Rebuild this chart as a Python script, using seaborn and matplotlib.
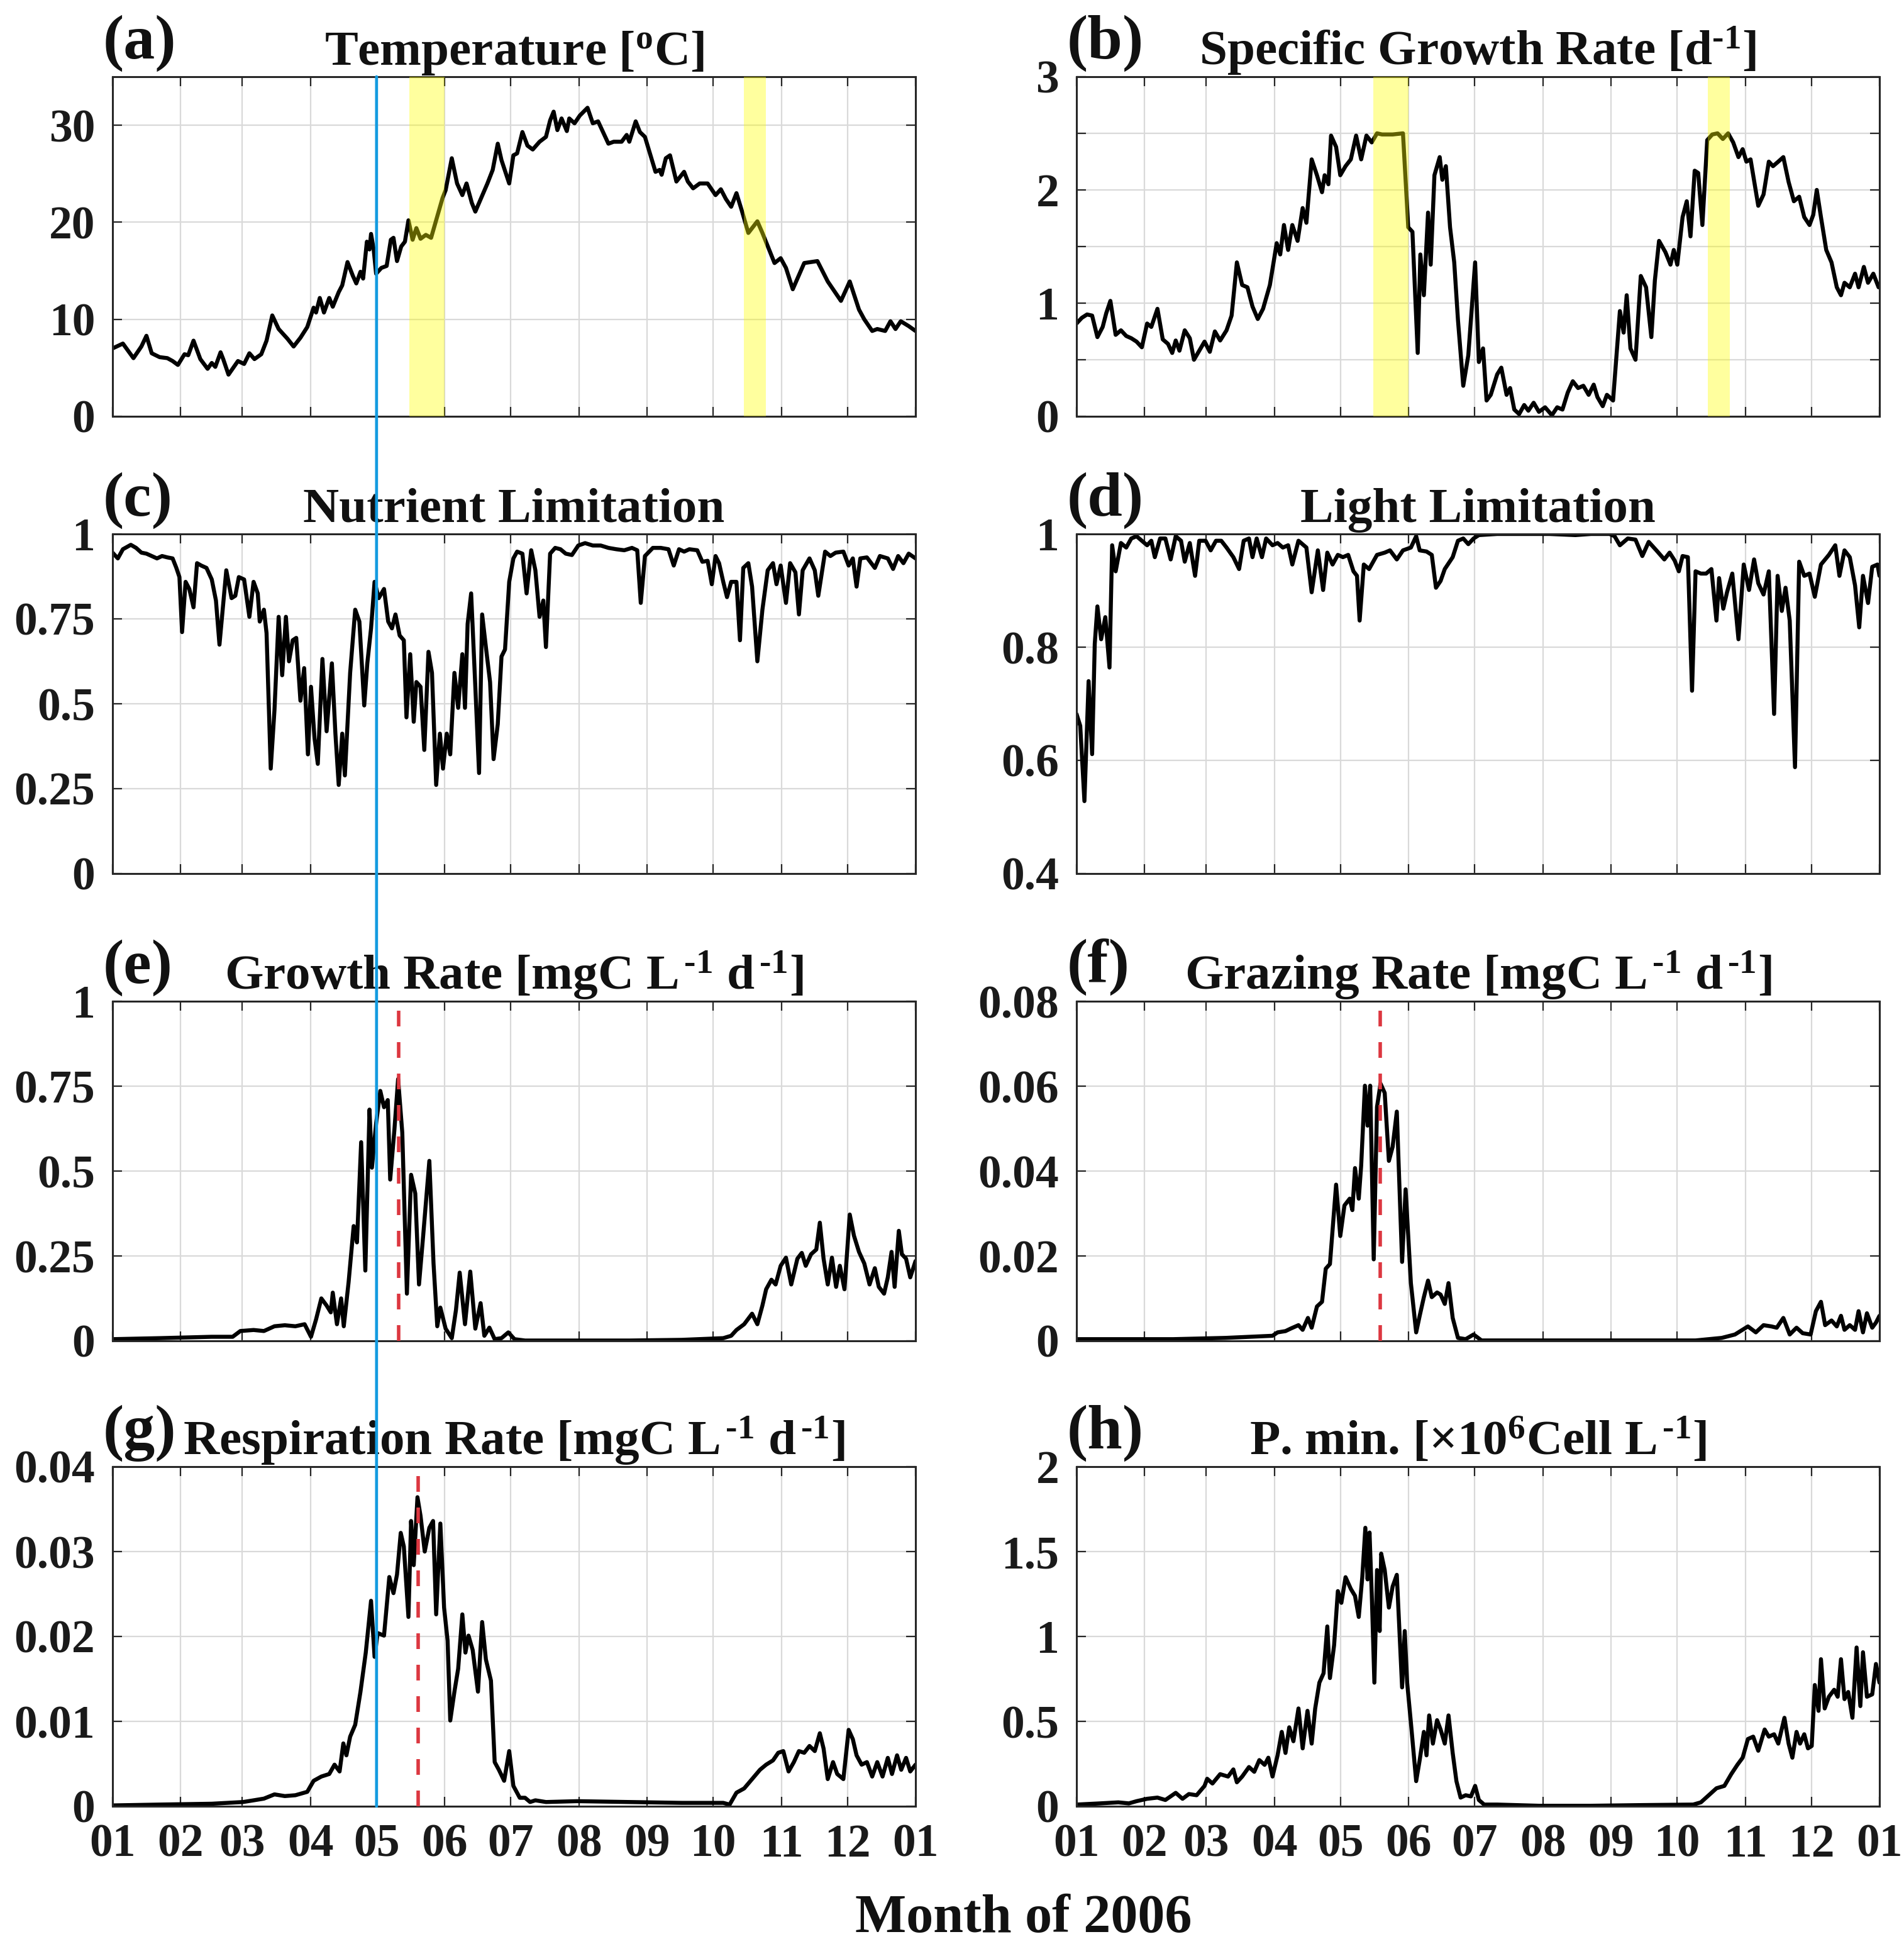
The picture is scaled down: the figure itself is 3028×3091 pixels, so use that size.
import numpy as np
import pandas as pd
import matplotlib
matplotlib.use("Agg")
import matplotlib.pyplot as plt
import matplotlib.dates as mdates
from matplotlib.patches import ConnectionPatch
from matplotlib.ticker import FixedLocator, FixedFormatter
import seaborn as sns

# ---------------- data (day offset from 2006-01-01, value) ----------------
YEAR_START = "2006-01-01"

temp_day = [0, 4.7, 9.5, 13.1, 15.4, 17.8, 21.4, 24.9, 27.3, 29.7,
            32.7, 34.4, 36.8, 39.9, 43.2, 45.1, 46.7, 49.1, 50.3, 52.7,
            57.0, 59.8, 62.2, 64.5, 67.6, 70.0, 72.6, 75.5, 79.5, 82.3,
            85.4, 88.5, 91.4, 92.5, 94.2, 96.1, 98.5, 100.1, 102.8, 104.4,
            106.8, 109.2, 110.8, 112.7, 113.9, 115.6, 116.8, 117.5, 118.7, 119.8,
            122.2, 124.6, 126.5, 127.7, 129.3, 131.2, 132.9, 134.5, 136.4, 138.1,
            140.0, 142.4, 144.8, 147.6, 150.0, 151.4, 154.2, 156.6, 159.0, 160.9,
            163.3, 164.9, 166.6, 170.4, 172.8, 175.1, 176.8, 180.3, 182.2, 183.9,
            186.3, 188.6, 191.0, 194.1, 197.0, 198.9, 200.5, 202.2, 204.1, 206.5,
            207.6, 210.0, 212.4, 215.9, 218.3, 220.7, 225.4, 227.8, 231.4, 233.7,
            234.9, 237.8, 239.7, 242.0, 246.8, 248.7, 249.6, 251.5, 253.4, 256.3,
            259.8, 261.5, 263.9, 266.9, 270.5, 274.1, 276.5, 278.8, 281.2, 283.6,
            285.9, 289.0, 293.1, 295.4, 300.9, 303.7, 306.1, 309.2, 314.4, 320.4,
            325.1, 328.7, 331.1, 335.1, 339.3, 341.7, 345.3, 347.6, 351.2, 353.6,
            355.9, 358.3, 361.9, 365.0]
temp_val = [7.0, 7.5, 6.0, 7.2, 8.3, 6.5, 6.1, 6.0, 5.7, 5.3,
            6.4, 6.3, 7.8, 5.9, 4.9, 5.5, 5.1, 6.6, 5.9, 4.3,
            5.7, 5.4, 6.5, 5.9, 6.4, 7.8, 10.4, 9.0, 8.0, 7.2,
            8.1, 9.2, 11.2, 10.7, 12.2, 10.7, 12.2, 11.3, 12.8, 13.5,
            15.9, 14.5, 13.7, 14.9, 14.2, 18.0, 17.2, 18.8, 17.2, 14.7,
            15.3, 15.5, 18.2, 18.4, 16.0, 17.5, 18.0, 20.2, 18.2, 19.4,
            18.3, 18.7, 18.4, 20.6, 22.5, 23.3, 26.6, 24.0, 22.8, 24.0,
            22.0, 21.1, 22.0, 24.0, 25.4, 28.1, 26.4, 24.0, 26.9, 27.1,
            29.3, 27.9, 27.5, 28.3, 28.8, 30.5, 31.4, 29.5, 30.7, 29.4,
            30.7, 30.2, 31.0, 31.8, 30.2, 30.4, 28.1, 28.3, 28.3, 29.0,
            28.3, 30.4, 29.3, 28.8, 25.2, 25.4, 24.9, 26.6, 26.9, 24.2,
            25.2, 24.2, 23.5, 24.0, 24.0, 22.8, 23.4, 22.4, 21.6, 23.0,
            21.3, 18.9, 20.1, 18.9, 15.8, 16.3, 15.3, 13.1, 15.8, 16.0,
            13.9, 12.7, 11.9, 13.9, 11.0, 10.0, 8.8, 9.0, 8.8, 9.8,
            9.0, 9.8, 9.3, 8.8]

sgr_day = [0, 2.4, 4.8, 7.1, 9.5, 11.9, 13.5, 15.4, 17.8, 20.2,
           22.6, 24.9, 27.3, 29.7, 32.1, 34.0, 36.8, 39.2, 41.6, 43.5,
           45.1, 46.8, 49.2, 51.5, 53.4, 55.8, 58.2, 60.6, 62.9, 65.3,
           68.2, 70.5, 72.9, 75.3, 77.7, 80.0, 82.4, 84.8, 87.9, 91.0,
           92.6, 94.3, 96.2, 98.1, 100.5, 102.8, 104.5, 106.9, 109.3, 111.6,
           112.8, 114.5, 115.7, 118.0, 119.9, 122.3, 124.7, 127.1, 129.4, 131.8,
           134.2, 136.6, 138.9, 143.7, 148.4, 150.8, 152.7, 155.1, 156.3, 157.9,
           159.8, 161.0, 162.7, 165.1, 166.3, 167.9, 169.8, 171.7, 173.4, 175.8,
           178.1, 181.2, 182.9, 184.8, 186.4, 188.3, 191.2, 193.1, 195.5, 197.1,
           199.0, 201.2, 203.5, 205.4, 207.8, 210.2, 213.0, 216.1, 218.5, 220.9,
           223.3, 225.6, 228.0, 230.4, 232.8, 235.1, 236.8, 239.2, 241.1, 243.9,
           247.0, 248.7, 250.1, 251.8, 254.1, 256.5, 258.9, 261.3, 262.9, 264.8,
           267.7, 270.0, 271.5, 273.1, 275.5, 277.4, 279.1, 281.0, 282.6, 284.5,
           286.7, 289.0, 291.4, 293.8, 296.2, 298.5, 300.9, 302.8, 304.5, 306.4,
           309.9, 312.3, 314.7, 316.6, 319.0, 321.3, 323.7, 326.1, 328.5, 330.8,
           333.2, 334.9, 336.5, 338.4, 340.8, 343.2, 345.6, 347.5, 349.1, 351.5,
           353.9, 355.5, 357.9, 359.8, 362.2, 364.6]
sgr_val = [0.82, 0.87, 0.90, 0.89, 0.70, 0.79, 0.91, 1.02, 0.72, 0.76,
           0.71, 0.69, 0.66, 0.61, 0.82, 0.79, 0.95, 0.68, 0.64, 0.56,
           0.67, 0.58, 0.76, 0.69, 0.50, 0.58, 0.66, 0.57, 0.75, 0.67,
           0.76, 0.89, 1.36, 1.16, 1.14, 0.97, 0.86, 0.95, 1.16, 1.53,
           1.43, 1.69, 1.47, 1.69, 1.55, 1.84, 1.71, 2.27, 2.13, 1.98,
           2.13, 2.05, 2.48, 2.38, 2.13, 2.21, 2.27, 2.48, 2.27, 2.48,
           2.42, 2.50, 2.49, 2.49, 2.50, 1.67, 1.63, 0.56, 1.43, 1.07,
           1.80, 1.34, 2.13, 2.29, 2.09, 2.21, 1.67, 1.36, 0.85, 0.27,
           0.54, 1.36, 0.48, 0.60, 0.14, 0.19, 0.37, 0.43, 0.19, 0.25,
           0.06, 0.02, 0.10, 0.05, 0.12, 0.04, 0.08, 0.01, 0.08, 0.06,
           0.21, 0.31, 0.25, 0.27, 0.19, 0.28, 0.17, 0.09, 0.19, 0.14,
           0.93, 0.74, 1.07, 0.60, 0.50, 1.24, 1.14, 0.70, 1.20, 1.55,
           1.45, 1.34, 1.47, 1.34, 1.76, 1.90, 1.59, 2.17, 2.15, 1.69,
           2.44, 2.49, 2.50, 2.45, 2.50, 2.42, 2.29, 2.36, 2.25, 2.27,
           1.86, 1.96, 2.25, 2.21, 2.25, 2.29, 2.07, 1.90, 1.94, 1.76,
           1.69, 1.78, 2.00, 1.76, 1.47, 1.36, 1.14, 1.07, 1.18, 1.14,
           1.26, 1.14, 1.32, 1.18, 1.26, 1.14]

nut_day = [0, 2.4, 4.7, 8.3, 10.7, 13.1, 15.4, 17.8, 20.2, 22.5,
           24.9, 27.3, 29.0, 30.4, 31.6, 33.2, 34.9, 36.8, 38.4, 40.3,
           42.7, 45.1, 47.0, 48.6, 51.7, 54.1, 55.8, 57.4, 59.8, 62.2,
           64.1, 66.0, 66.9, 68.8, 70.0, 71.9, 73.6, 75.5, 77.1, 78.8,
           80.2, 81.9, 83.5, 85.4, 87.1, 88.8, 90.2, 91.8, 93.3, 95.4,
           97.3, 99.7, 101.3, 102.8, 104.4, 105.6, 108.0, 110.3, 112.2, 114.4,
           115.8, 117.5, 119.1, 121.0, 123.4, 125.3, 127.0, 128.6, 130.5, 132.4,
           133.6, 135.3, 136.9, 138.1, 140.0, 141.7, 143.6, 145.2, 147.1, 148.8,
           150.2, 151.9, 153.5, 155.4, 157.1, 159.0, 160.2, 161.4, 163.0, 164.9,
           166.6, 168.0, 169.7, 171.6, 173.2, 175.1, 176.8, 178.4, 180.3, 182.2,
           183.9, 186.3, 188.2, 190.3, 192.2, 194.1, 195.8, 197.0, 198.9, 201.2,
           203.6, 206.0, 208.8, 211.7, 214.8, 218.3, 221.9, 225.4, 229.0, 232.6,
           236.1, 238.5, 240.1, 242.0, 245.6, 249.2, 252.7, 255.1, 257.5, 259.8,
           262.2, 265.8, 268.1, 270.5, 272.4, 274.1, 275.7, 277.6, 279.3, 281.2,
           283.6, 285.2, 286.7, 289.0, 290.7, 293.1, 295.4, 297.8, 300.2, 301.8,
           303.7, 306.1, 308.0, 310.4, 312.0, 313.7, 316.8, 319.2, 320.8, 323.9,
           326.3, 328.7, 332.2, 334.6, 336.5, 338.2, 339.9, 342.9, 346.5, 348.8,
           352.4, 354.8, 357.1, 359.5, 361.9, 365.0]
nut_val = [0.945, 0.928, 0.955, 0.968, 0.959, 0.945, 0.942, 0.935, 0.928, 0.935,
           0.931, 0.928, 0.900, 0.873, 0.711, 0.859, 0.838, 0.784, 0.914, 0.907,
           0.900, 0.866, 0.804, 0.674, 0.893, 0.811, 0.818, 0.873, 0.866, 0.756,
           0.859, 0.825, 0.742, 0.777, 0.708, 0.309, 0.481, 0.756, 0.584, 0.756,
           0.625, 0.687, 0.694, 0.509, 0.605, 0.351, 0.550, 0.399, 0.323, 0.632,
           0.419, 0.619, 0.412, 0.261, 0.412, 0.289, 0.591, 0.777, 0.742, 0.495,
           0.619, 0.722, 0.859, 0.811, 0.838, 0.742, 0.722, 0.763, 0.701, 0.687,
           0.460, 0.646, 0.447, 0.564, 0.550, 0.364, 0.653, 0.591, 0.261, 0.412,
           0.309, 0.412, 0.351, 0.591, 0.488, 0.646, 0.488, 0.735, 0.825, 0.550,
           0.296, 0.763, 0.667, 0.564, 0.337, 0.440, 0.639, 0.660, 0.859, 0.928,
           0.948, 0.942, 0.825, 0.952, 0.893, 0.756, 0.804, 0.667, 0.942, 0.959,
           0.955, 0.942, 0.938, 0.966, 0.973, 0.966, 0.966, 0.959, 0.955, 0.952,
           0.959, 0.952, 0.797, 0.935, 0.959, 0.959, 0.955, 0.907, 0.955, 0.948,
           0.955, 0.952, 0.918, 0.921, 0.852, 0.935, 0.914, 0.859, 0.814, 0.859,
           0.859, 0.687, 0.900, 0.914, 0.845, 0.625, 0.777, 0.893, 0.914, 0.852,
           0.907, 0.797, 0.914, 0.887, 0.763, 0.893, 0.928, 0.893, 0.818, 0.948,
           0.935, 0.945, 0.948, 0.907, 0.928, 0.845, 0.928, 0.931, 0.900, 0.935,
           0.928, 0.897, 0.935, 0.914, 0.942, 0.928]

light_day = [0, 1.7, 3.6, 5.5, 7.1, 8.3, 9.5, 11.2, 13.1, 15.0,
             16.2, 17.8, 20.2, 22.6, 24.9, 27.3, 29.7, 32.1, 34.0, 35.6,
             38.0, 40.4, 42.8, 45.1, 47.5, 49.2, 51.5, 53.9, 55.8, 58.7,
             61.0, 63.4, 65.8, 68.2, 71.3, 73.9, 76.0, 78.4, 80.0, 81.9,
             84.3, 86.2, 89.1, 91.4, 93.8, 96.2, 98.1, 100.9, 104.5, 106.9,
             109.7, 112.1, 114.0, 116.4, 118.8, 121.1, 123.5, 125.9, 127.5, 128.7,
             130.6, 133.0, 136.6, 140.1, 142.5, 145.6, 148.4, 152.0, 154.4, 156.0,
             159.1, 161.5, 163.4, 165.5, 167.4, 171.0, 173.4, 175.8, 178.1, 180.5,
             182.9, 191.2, 203.1, 214.9, 226.8, 233.9, 242.3, 244.6, 247.0, 250.6,
             254.1, 257.2, 260.1, 263.6, 267.2, 269.6, 271.9, 273.8, 275.5, 277.9,
             279.8, 281.4, 283.8, 286.2, 288.6, 290.9, 292.1, 294.0, 295.7, 298.1,
             300.9, 303.3, 305.7, 308.0, 309.9, 312.3, 314.7, 317.1, 318.7, 320.6,
             322.3, 324.2, 326.6, 328.5, 330.8, 333.2, 335.6, 338.4, 342.0, 344.9,
             346.8, 349.1, 351.5, 353.9, 355.8, 357.5, 359.8, 361.7, 364.1, 365.0]
light_val = [0.682, 0.661, 0.528, 0.740, 0.611, 0.806, 0.872, 0.814, 0.853, 0.764,
             0.980, 0.934, 0.984, 0.976, 0.992, 0.996, 0.988, 0.980, 0.988, 0.959,
             0.992, 0.992, 0.955, 0.996, 0.988, 0.951, 0.984, 0.926, 0.988, 0.988,
             0.971, 0.988, 0.988, 0.976, 0.959, 0.938, 0.988, 0.992, 0.959, 0.992,
             0.959, 0.992, 0.980, 0.984, 0.976, 0.980, 0.946, 0.988, 0.976, 0.897,
             0.971, 0.901, 0.967, 0.946, 0.963, 0.959, 0.963, 0.934, 0.926, 0.847,
             0.946, 0.938, 0.963, 0.967, 0.971, 0.955, 0.971, 0.976, 0.996, 0.971,
             0.969, 0.963, 0.905, 0.917, 0.938, 0.959, 0.988, 0.992, 0.982, 0.992,
             0.998, 1.000, 1.000, 1.000, 0.998, 1.000, 1.000, 0.996, 0.980, 0.992,
             0.990, 0.961, 0.986, 0.971, 0.955, 0.967, 0.953, 0.934, 0.961, 0.959,
             0.723, 0.934, 0.930, 0.930, 0.938, 0.847, 0.922, 0.868, 0.897, 0.930,
             0.814, 0.946, 0.901, 0.955, 0.913, 0.893, 0.934, 0.682, 0.926, 0.864,
             0.905, 0.847, 0.588, 0.951, 0.926, 0.930, 0.889, 0.946, 0.963, 0.980,
             0.926, 0.971, 0.959, 0.909, 0.835, 0.926, 0.878, 0.942, 0.946, 0.926]

growth_day = [0, 21.4, 45.1, 54.6, 58.1, 64.1, 68.8, 73.6, 78.3, 83.1,
              87.3, 90.2, 92.5, 94.9, 97.3, 99.2, 100.1, 102.0, 103.9, 105.1,
              107.3, 109.6, 111.1, 113.0, 114.9, 116.8, 117.9, 119.8, 121.7, 123.4,
              125.1, 126.2, 128.1, 129.8, 131.7, 133.8, 135.7, 137.6, 139.3, 141.2,
              144.0, 145.9, 147.6, 149.0, 151.4, 154.2, 156.1, 157.8, 160.2, 162.6,
              164.9, 167.3, 169.0, 171.3, 173.7, 176.8, 179.9, 182.7, 187.5, 211.2,
              234.9, 258.7, 277.6, 281.2, 283.6, 287.1, 290.7, 293.1, 295.4, 297.1,
              299.5, 301.4, 303.7, 306.1, 308.5, 311.3, 313.3, 315.1, 317.5, 319.9,
              321.5, 323.2, 325.1, 327.0, 328.9, 330.6, 332.7, 335.1, 337.0, 339.3,
              341.7, 344.1, 346.5, 348.3, 350.7, 352.4, 354.1, 355.5, 357.4, 358.8,
              360.7, 362.6, 365.0]
growth_val = [0.005, 0.008, 0.012, 0.012, 0.029, 0.032, 0.029, 0.043, 0.046, 0.043,
              0.049, 0.012, 0.063, 0.125, 0.104, 0.084, 0.142, 0.049, 0.125, 0.043,
              0.173, 0.338, 0.290, 0.585, 0.207, 0.681, 0.510, 0.640, 0.736, 0.688,
              0.709, 0.475, 0.620, 0.771, 0.613, 0.139, 0.489, 0.434, 0.166, 0.310,
              0.530, 0.228, 0.043, 0.098, 0.036, 0.008, 0.091, 0.201, 0.049, 0.204,
              0.036, 0.111, 0.015, 0.039, 0.005, 0.008, 0.025, 0.005, 0.001, 0.001,
              0.001, 0.003, 0.008, 0.015, 0.032, 0.049, 0.080, 0.049, 0.104, 0.152,
              0.180, 0.166, 0.221, 0.245, 0.166, 0.242, 0.259, 0.221, 0.255, 0.269,
              0.348, 0.242, 0.166, 0.245, 0.159, 0.221, 0.152, 0.372, 0.310, 0.262,
              0.228, 0.166, 0.214, 0.159, 0.139, 0.187, 0.262, 0.159, 0.324, 0.255,
              0.242, 0.187, 0.235]

graz_day = [0, 43.9, 67.7, 89.1, 91.4, 95.0, 97.4, 100.9, 102.8, 105.2,
            106.9, 109.3, 111.6, 113.3, 115.2, 118.0, 119.9, 121.8, 124.2, 125.4,
            126.6, 128.3, 129.4, 131.1, 132.3, 133.5, 135.1, 136.6, 138.2, 140.1,
            142.0, 143.7, 145.6, 148.0, 149.6, 152.0, 154.4, 156.0, 157.9, 159.8,
            161.5, 163.9, 165.5, 167.4, 169.1, 171.0, 173.4, 176.9, 180.5, 184.1,
            233.9, 281.4, 293.3, 299.3, 305.2, 308.8, 312.3, 315.9, 318.3, 321.3,
            324.2, 327.3, 330.1, 333.7, 336.1, 338.4, 340.3, 343.2, 345.6, 347.5,
            349.1, 351.5, 353.9, 355.5, 357.5, 359.3, 361.7, 363.4, 365.0]
graz_val = [0.0004, 0.0004, 0.0007, 0.0012, 0.0020, 0.0023, 0.0029, 0.0037, 0.0026, 0.0054,
            0.0031, 0.0081, 0.0092, 0.0170, 0.0181, 0.0368, 0.0247, 0.0319, 0.0335, 0.0308,
            0.0407, 0.0335, 0.0413, 0.0601, 0.0507, 0.0601, 0.0192, 0.0551, 0.0606, 0.0584,
            0.0424, 0.0457, 0.0540, 0.0186, 0.0357, 0.0136, 0.0020, 0.0059, 0.0103, 0.0142,
            0.0103, 0.0114, 0.0109, 0.0087, 0.0136, 0.0054, 0.0007, 0.0004, 0.0015, 0.0001,
            0.0001, 0.0001, 0.0007, 0.0015, 0.0034, 0.0020, 0.0037, 0.0034, 0.0031, 0.0054,
            0.0015, 0.0031, 0.0018, 0.0015, 0.0070, 0.0092, 0.0037, 0.0048, 0.0034, 0.0059,
            0.0026, 0.0037, 0.0026, 0.0070, 0.0020, 0.0065, 0.0031, 0.0043, 0.0059]

resp_day = [0, 21.4, 45.1, 59.3, 64.1, 68.8, 73.6, 78.3, 83.1, 88.5,
            91.4, 94.9, 98.5, 100.9, 103.2, 104.9, 106.3, 108.0, 110.3, 112.7,
            115.1, 117.5, 119.1, 120.5, 123.4, 125.8, 127.7, 129.3, 131.0, 132.4,
            134.5, 135.7, 136.9, 138.6, 140.0, 141.9, 144.0, 145.7, 147.1, 149.0,
            150.7, 152.3, 153.5, 155.4, 157.1, 159.0, 160.4, 161.8, 163.7, 166.1,
            168.0, 169.7, 172.0, 173.7, 175.6, 178.0, 180.3, 182.2, 185.1, 187.5,
            189.8, 192.2, 197.0, 211.2, 234.9, 258.7, 277.6, 280.5, 283.6, 287.1,
            290.7, 294.3, 297.1, 300.2, 302.6, 304.9, 307.3, 309.7, 312.0, 314.4,
            316.8, 319.2, 321.5, 323.2, 325.1, 327.5, 329.4, 332.2, 334.6, 336.5,
            338.2, 340.5, 342.9, 345.3, 347.6, 350.0, 352.4, 354.3, 356.6, 358.5,
            360.7, 362.6, 365.0]
resp_val = [0.0001, 0.0002, 0.0003, 0.0005, 0.0007, 0.0009, 0.0014, 0.0012, 0.0013, 0.0017,
            0.0030, 0.0035, 0.0038, 0.0049, 0.0041, 0.0074, 0.0060, 0.0082, 0.0096, 0.0135,
            0.0181, 0.0242, 0.0176, 0.0204, 0.0201, 0.0270, 0.0251, 0.0273, 0.0322, 0.0306,
            0.0223, 0.0336, 0.0284, 0.0364, 0.0342, 0.0300, 0.0328, 0.0336, 0.0226, 0.0333,
            0.0234, 0.0195, 0.0101, 0.0135, 0.0162, 0.0226, 0.0181, 0.0201, 0.0184, 0.0135,
            0.0217, 0.0173, 0.0148, 0.0052, 0.0043, 0.0030, 0.0065, 0.0024, 0.0010, 0.0010,
            0.0005, 0.0007, 0.0005, 0.0006, 0.0005, 0.0004, 0.0004, 0.0002, 0.0016, 0.0021,
            0.0032, 0.0043, 0.0049, 0.0054, 0.0063, 0.0065, 0.0041, 0.0052, 0.0065, 0.0063,
            0.0071, 0.0065, 0.0086, 0.0068, 0.0032, 0.0052, 0.0038, 0.0032, 0.0090, 0.0079,
            0.0060, 0.0049, 0.0052, 0.0035, 0.0052, 0.0035, 0.0057, 0.0038, 0.0060, 0.0043,
            0.0057, 0.0041, 0.0049]

pmin_day = [0, 10.7, 19.0, 23.8, 27.3, 32.1, 36.8, 40.4, 45.1, 48.2,
            51.1, 54.6, 58.2, 59.4, 61.8, 65.3, 68.9, 71.3, 72.9, 75.3,
            78.4, 80.8, 83.1, 85.5, 87.2, 89.1, 91.4, 93.3, 95.0, 96.7,
            98.6, 100.9, 102.8, 105.0, 106.9, 108.5, 110.4, 112.3, 114.0, 115.2,
            117.1, 118.8, 120.4, 122.3, 124.7, 126.6, 128.3, 129.9, 131.3, 132.3,
            133.2, 134.2, 135.4, 136.6, 137.8, 138.5, 140.1, 142.0, 143.7, 145.6,
            148.0, 149.2, 150.3, 152.0, 154.4, 156.0, 157.9, 159.1, 160.3, 162.0,
            163.9, 165.5, 167.4, 169.1, 171.0, 172.7, 174.6, 176.9, 179.3, 181.2,
            182.9, 185.3, 191.2, 210.2, 233.9, 257.7, 280.3, 283.8, 287.4, 290.9,
            294.5, 297.6, 300.4, 302.8, 305.2, 307.6, 309.9, 312.8, 314.7, 317.1,
            319.0, 321.8, 323.7, 325.4, 327.3, 328.9, 330.8, 332.5, 334.2, 335.6,
            337.3, 338.4, 340.1, 342.0, 344.4, 346.0, 347.5, 349.1, 350.8, 352.7,
            354.6, 356.3, 357.5, 359.3, 361.7, 363.4, 365.0]
pmin_val = [0.010, 0.017, 0.023, 0.017, 0.030, 0.044, 0.051, 0.037, 0.079, 0.044,
            0.072, 0.065, 0.120, 0.162, 0.134, 0.189, 0.175, 0.217, 0.141, 0.175,
            0.231, 0.203, 0.272, 0.244, 0.286, 0.175, 0.300, 0.438, 0.314, 0.465,
            0.383, 0.576, 0.341, 0.562, 0.369, 0.576, 0.728, 0.783, 1.059, 0.755,
            0.949, 1.267, 1.198, 1.349, 1.280, 1.239, 1.115, 1.349, 1.640, 1.336,
            1.612, 1.253, 0.728, 1.391, 1.032, 1.488, 1.391, 1.170, 1.294, 1.363,
            0.700, 1.032, 0.728, 0.493, 0.148, 0.272, 0.438, 0.300, 0.535, 0.369,
            0.507, 0.452, 0.369, 0.535, 0.314, 0.148, 0.051, 0.065, 0.058, 0.120,
            0.037, 0.010, 0.010, 0.003, 0.003, 0.007, 0.010, 0.023, 0.065, 0.106,
            0.120, 0.189, 0.244, 0.286, 0.396, 0.410, 0.327, 0.452, 0.410, 0.424,
            0.369, 0.521, 0.369, 0.286, 0.438, 0.369, 0.424, 0.341, 0.355, 0.714,
            0.562, 0.866, 0.576, 0.645, 0.686, 0.645, 0.866, 0.631, 0.673, 0.521,
            0.935, 0.590, 0.907, 0.645, 0.659, 0.838, 0.728]

# axis ticks / limits
temp_ticks = [0, 10, 20, 30]
sgr_ticks = [0, 0.5, 1, 1.5, 2, 2.5, 3]
sgr_labels = ["0", "", "1", "", "2", "", "3"]
frac_ticks = [0, 0.25, 0.5, 0.75, 1]
frac_labels = ["0", "0.25", "0.5", "0.75", "1"]
light_ticks = [0.4, 0.6, 0.8, 1.0]
light_labels = ["0.4", "0.6", "0.8", "1"]
graz_ticks = [0, 0.02, 0.04, 0.06, 0.08]
graz_labels = ["0", "0.02", "0.04", "0.06", "0.08"]
resp_ticks = [0, 0.01, 0.02, 0.03, 0.04]
resp_labels = ["0", "0.01", "0.02", "0.03", "0.04"]
pmin_ticks = [0, 0.5, 1, 1.5, 2]
pmin_labels = ["0", "0.5", "1", "1.5", "2"]

# event markers
blue_date = "2006-05-01"
yellow_spans = [("2006-05-16", "2006-06-01"), ("2006-10-15", "2006-10-25")]
red_growth = "2006-05-11"
red_grazing = "2006-05-19"
red_resp = "2006-05-20"

# ---------------- style ----------------
sns.set_theme(style="ticks")
plt.rcParams["font.family"] = ["Liberation Serif", "DejaVu Serif"]
plt.rcParams["font.weight"] = "bold"
plt.rcParams["mathtext.fontset"] = "custom"
plt.rcParams["mathtext.rm"] = "Liberation Serif:bold"
plt.rcParams["mathtext.it"] = "Liberation Serif:italic:bold"
plt.rcParams["mathtext.bf"] = "Liberation Serif:bold"

W, H = 3028, 3091
fig = plt.figure(figsize=(W / 100, H / 100), dpi=100)

start = pd.Timestamp(YEAR_START)


def to_dates(days):
    return start + pd.to_timedelta(np.asarray(days, dtype=float), unit="D")


HY = "\u2010"  # short hyphen for superscripts
unit_rate = "[mgC L$^{\\,\\mathrm{" + HY + "1}}$ d$^{\\,\\mathrm{" + HY + "1}}$]"

panels = [
    dict(lab="(a)", title="Temperature [$^{\\mathrm{o}}$C]", day=temp_day, val=temp_val,
         ylim=(0, 35), ticks=temp_ticks, labels=[str(t) for t in temp_ticks], col=0, row=0,
         yellow=True),
    dict(lab="(b)", title="Specific Growth Rate [d$^{\\mathrm{" + HY + "1}}$]", day=sgr_day,
         val=sgr_val, ylim=(0, 3), ticks=sgr_ticks, labels=sgr_labels, col=1, row=0,
         yellow=True),
    dict(lab="(c)", title="Nutrient Limitation", day=nut_day, val=nut_val,
         ylim=(0, 1), ticks=frac_ticks, labels=frac_labels, col=0, row=1),
    dict(lab="(d)", title="Light Limitation", day=light_day, val=light_val,
         ylim=(0.4, 1), ticks=light_ticks, labels=light_labels, col=1, row=1),
    dict(lab="(e)", title="Growth Rate " + unit_rate,
         day=growth_day, val=growth_val, ylim=(0, 1), ticks=frac_ticks, labels=frac_labels,
         col=0, row=2, red=red_growth),
    dict(lab="(f)", title="Grazing Rate " + unit_rate,
         day=graz_day, val=graz_val, ylim=(0, 0.08), ticks=graz_ticks, labels=graz_labels,
         col=1, row=2, red=red_grazing),
    dict(lab="(g)", title="Respiration Rate " + unit_rate,
         day=resp_day, val=resp_val, ylim=(0, 0.04), ticks=resp_ticks, labels=resp_labels,
         col=0, row=3, red=red_resp),
    dict(lab="(h)", title="P. min. [×10$^{\\mathrm{6}}$Cell L$^{\\,\\mathrm{" + HY + "1}}$]",
         day=pmin_day, val=pmin_val, ylim=(0, 2), ticks=pmin_ticks, labels=pmin_labels,
         col=1, row=3),
]

col_left = [179 / W, 1712 / W]
col_width = 1277 / W
row_top = [122, 849, 1592, 2332]
ax_h_px = 540

month_ticks = pd.date_range("2006-01-01", "2007-01-01", freq="MS")
xlim = (pd.Timestamp("2006-01-01"), pd.Timestamp("2007-01-01"))

axes = {}
for p in panels:
    top = row_top[p["row"]]
    ax = fig.add_axes([col_left[p["col"]], 1 - (top + ax_h_px) / H, col_width, ax_h_px / H])
    axes[p["lab"]] = ax
    if len(p["day"]) != len(p["val"]):
        raise ValueError(f"{p['lab']}: {len(p['day'])} days vs {len(p['val'])} values")
    df = pd.DataFrame({"date": to_dates(p["day"]), "value": p["val"]})
    sns.lineplot(data=df, x="date", y="value", ax=ax, color="black", linewidth=4.6,
                 estimator=None, zorder=2)
    ax.set_xlim(*xlim)
    ax.set_ylim(*p["ylim"])
    ax.set_xlabel("")
    ax.set_ylabel("")
    ax.xaxis.set_major_locator(FixedLocator(mdates.date2num(month_ticks)))
    if p["row"] == 3:
        ax.xaxis.set_major_formatter(mdates.DateFormatter("%m"))
    ax.yaxis.set_major_locator(FixedLocator(p["ticks"]))
    ax.yaxis.set_major_formatter(FixedFormatter(p["labels"]))
    ax.grid(True, color="#d9d9d9", linewidth=1.6)
    ax.set_axisbelow(True)
    ax.tick_params(axis="both", which="major", direction="in", length=11, width=1.6,
                   color="#262626", labelsize=53, labelcolor="#1a1a1a", pad=20,
                   top=True, right=True, labelbottom=(p["row"] == 3))
    for s in ax.spines.values():
        s.set_color("#262626")
        s.set_linewidth(2.2)
        s.set_visible(True)
    for lbl in ax.get_xticklabels() + ax.get_yticklabels():
        lbl.set_fontweight("bold")
    ax.set_title(p["title"], fontsize=57, fontweight="bold", pad=14, color="#111111")
    ax.text(-0.012, 1 + 29 / ax_h_px, p["lab"], transform=ax.transAxes, fontsize=72,
            fontweight="bold", ha="left", va="baseline", color="#111111")
    if p.get("yellow"):
        for s0, s1 in yellow_spans:
            ax.axvspan(pd.Timestamp(s0), pd.Timestamp(s1), color=(1, 1, 0), alpha=0.38,
                       linewidth=0, zorder=3)
    if p.get("red"):
        ax.axvline(pd.Timestamp(p["red"]), ymin=0, ymax=0.98, color="#dc3740",
                   linewidth=4.0, linestyle=(0, (4.5, 4.5)), zorder=4)

# blue line spanning panels (a) to (g)
bx = mdates.date2num(pd.Timestamp(blue_date))
con = ConnectionPatch(xyA=(bx, 35), coordsA=axes["(a)"].transData,
                      xyB=(bx, 0), coordsB=axes["(g)"].transData,
                      color="#139be0", linewidth=3.4, zorder=10)
fig.add_artist(con)

fig.text(1628 / W, 1 - 3051 / H, "Month of 2006", fontsize=62, fontweight="bold",
         ha="center", va="center", color="#111111")

fig.savefig("out.png", dpi=100)
